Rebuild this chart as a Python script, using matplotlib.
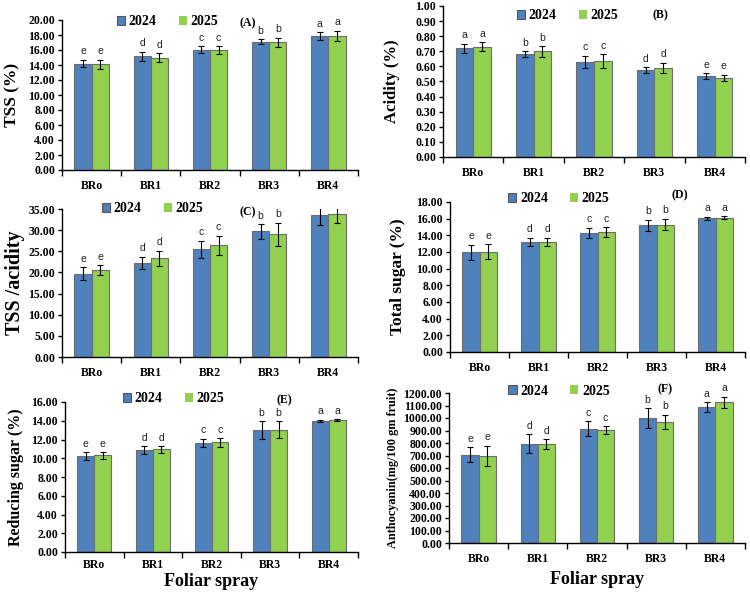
import matplotlib
matplotlib.use("Agg")
import matplotlib.pyplot as plt
import numpy as np
from matplotlib.ticker import FixedLocator, NullFormatter

# treatments and series
treatments = ["BRo", "BR1", "BR2", "BR3", "BR4"]
years = ["2024", "2025"]

tss_2024 = [14.20, 15.20, 16.05, 17.10, 17.90]
tss_2025 = [14.10, 14.95, 16.00, 17.05, 17.85]
tss_err_2024 = [0.50, 0.60, 0.45, 0.30, 0.50]
tss_err_2025 = [0.60, 0.60, 0.50, 0.60, 0.70]

acid_2024 = [0.72, 0.68, 0.63, 0.575, 0.535]
acid_2025 = [0.73, 0.70, 0.635, 0.59, 0.525]
acid_err_2024 = [0.03, 0.02, 0.04, 0.02, 0.02]
acid_err_2025 = [0.03, 0.035, 0.045, 0.035, 0.02]

ratio_2024 = [19.7, 22.2, 25.5, 29.7, 33.5]
ratio_2025 = [20.5, 23.3, 26.4, 29.0, 33.9]
ratio_err_2024 = [1.5, 1.5, 2.0, 1.7, 2.2]
ratio_err_2025 = [1.2, 1.8, 2.3, 2.7, 2.3]

tsugar_2024 = [12.00, 13.20, 14.30, 15.20, 16.05]
tsugar_2025 = [12.05, 13.20, 14.35, 15.30, 16.10]
tsugar_err_2024 = [0.90, 0.50, 0.60, 0.70, 0.20]
tsugar_err_2025 = [0.90, 0.50, 0.60, 0.70, 0.20]

rsugar_2024 = [10.25, 10.90, 11.65, 13.00, 14.00]
rsugar_2025 = [10.30, 10.95, 11.70, 13.05, 14.05]
rsugar_err_2024 = [0.40, 0.40, 0.45, 0.95, 0.10]
rsugar_err_2025 = [0.35, 0.35, 0.45, 0.90, 0.10]

antho_2024 = [705, 795, 915, 1000, 1085]
antho_2025 = [700, 790, 905, 970, 1125]
antho_err_2024 = [60, 75, 60, 80, 40]
antho_err_2025 = [80, 40, 30, 55, 45]

letters_up = ["e", "d", "c", "b", "a"]
letters_down = ["a", "b", "c", "d", "e"]

BLUE = "#4F81BD"
GREEN = "#92D050"
SERIF = "Liberation Serif"

fig = plt.figure(figsize=(7.5, 5.92), dpi=100)
W, H = 750.0, 592.0


def make_axes(left, top, right, bottom):
    # pixel box -> figure fraction
    return fig.add_axes([left / W, 1 - bottom / H, (right - left) / W, (bottom - top) / H])


def draw_panel(ax, v1, v2, e1, e2, letters, ymax, ystep, ylabel, ylab_x, ylab_size,
               leg_xy, tag, tag_xy, xlab_y=None, xpad=7):
    x = np.arange(len(treatments))
    w = 0.29
    for vals, errs, col, off in ((v1, e1, BLUE, -w / 2), (v2, e2, GREEN, w / 2)):
        ax.bar(x + off, vals, w, color=col, edgecolor="#6d6d6d", linewidth=0.8, zorder=2)
        ax.errorbar(x + off, vals, yerr=errs, fmt="none", ecolor="black",
                    elinewidth=0.8, capsize=2, capthick=0.8, zorder=3)
        for xi, v, e, lt in zip(x + off, vals, errs, letters):
            ax.annotate(lt, (xi, v + e), xytext=(0, 2.5), textcoords="offset points",
                        ha="center", va="bottom", fontsize=7.5,
                        family="Liberation Sans", color="#222222")

    ax.set_xlim(-0.5, len(treatments) - 0.5)
    ax.set_ylim(0, ymax)
    ax.set_yticks(np.arange(0, ymax + ystep / 2, ystep))
    ax.yaxis.set_major_formatter(matplotlib.ticker.FormatStrFormatter("%.2f"))
    ax.set_xticks(x)
    ax.set_xticklabels(treatments)
    ax.xaxis.set_minor_locator(FixedLocator(np.arange(-0.5, len(treatments), 1.0)))
    ax.xaxis.set_minor_formatter(NullFormatter())
    ax.tick_params(axis="x", which="major", length=0, pad=xpad)
    ax.tick_params(axis="x", which="minor", length=4, direction="out", width=1)
    ax.tick_params(axis="y", length=3, direction="out", width=1, pad=2)
    for lab in ax.get_xticklabels() + ax.get_yticklabels():
        lab.set_family(SERIF)
        lab.set_fontweight("bold")
        lab.set_fontsize(8.5)
    ax.spines["top"].set_visible(False)
    ax.spines["right"].set_visible(False)
    ax.spines["left"].set_linewidth(1)
    ax.spines["bottom"].set_linewidth(1)

    ax.set_ylabel(ylabel, family=SERIF, fontweight="bold", fontsize=ylab_size)
    ax.yaxis.set_label_coords(ylab_x, 0.5)

    handles = [plt.Rectangle((0, 0), 1, 1, facecolor=BLUE, edgecolor="#555555", linewidth=0.8),
               plt.Rectangle((0, 0), 1, 1, facecolor=GREEN, edgecolor="none")]
    ax.legend(handles, years, ncol=2, loc="center left", bbox_to_anchor=leg_xy,
              frameon=False, borderpad=0, borderaxespad=0, handlelength=0.6,
              handleheight=0.6, handletextpad=0.25, columnspacing=1.6,
              prop={"family": SERIF, "weight": "bold", "size": 10})
    ax.text(tag_xy[0], tag_xy[1], tag, transform=ax.transAxes, ha="center", va="center",
            family=SERIF, fontweight="bold", fontsize=8.5)
    if xlab_y is not None:
        ax.set_xlabel("Foliar spray", family=SERIF, fontweight="bold", fontsize=13)
        ax.xaxis.set_label_coords(0.5, xlab_y)


axA = make_axes(62, 20, 358, 170)
draw_panel(axA, tss_2024, tss_2025, tss_err_2024, tss_err_2025, letters_up, 20, 2,
           "TSS (%)", -0.14, 12.5, (0.186, 0.987), "(A)", (0.628, 0.98))

axB = make_axes(443, 6, 745, 157)
draw_panel(axB, acid_2024, acid_2025, acid_err_2024, acid_err_2025, letters_down, 1.0, 0.1,
           "Acidity (%)", -0.142, 12, (0.245, 0.934), "(B)", (0.719, 0.94))

axC = make_axes(62, 209, 358, 357)
draw_panel(axC, ratio_2024, ratio_2025, ratio_err_2024, ratio_err_2025, letters_up, 35, 5,
           "TSS /acidity", -0.125, 14.5, (0.135, 1.0), "(C)", (0.628, 0.98))

axD = make_axes(450, 202, 745, 352)
draw_panel(axD, tsugar_2024, tsugar_2025, tsugar_err_2024, tsugar_err_2025, letters_up, 18, 2,
           "Total sugar (%)", -0.15, 12.5, (0.197, 1.02), "(D)", (0.78, 1.047))

axE = make_axes(65, 402, 358, 552)
draw_panel(axE, rsugar_2024, rsugar_2025, rsugar_err_2024, rsugar_err_2025, letters_up, 16, 2,
           "Reducing sugar (%)", -0.14, 11.5, (0.198, 1.02), "(E)", (0.75, 1.013),
           xlab_y=-0.14, xpad=5)

axF = make_axes(449, 393, 745, 543)
draw_panel(axF, antho_2024, antho_2025, antho_err_2024, antho_err_2025, letters_up, 1200, 100,
           "Anthocyanin(mg/100 gm fruit)", -0.17, 8.8, (0.2, 1.013), "(F)", (0.73, 1.027),
           xlab_y=-0.187)

fig.savefig("out.png", dpi=100)
